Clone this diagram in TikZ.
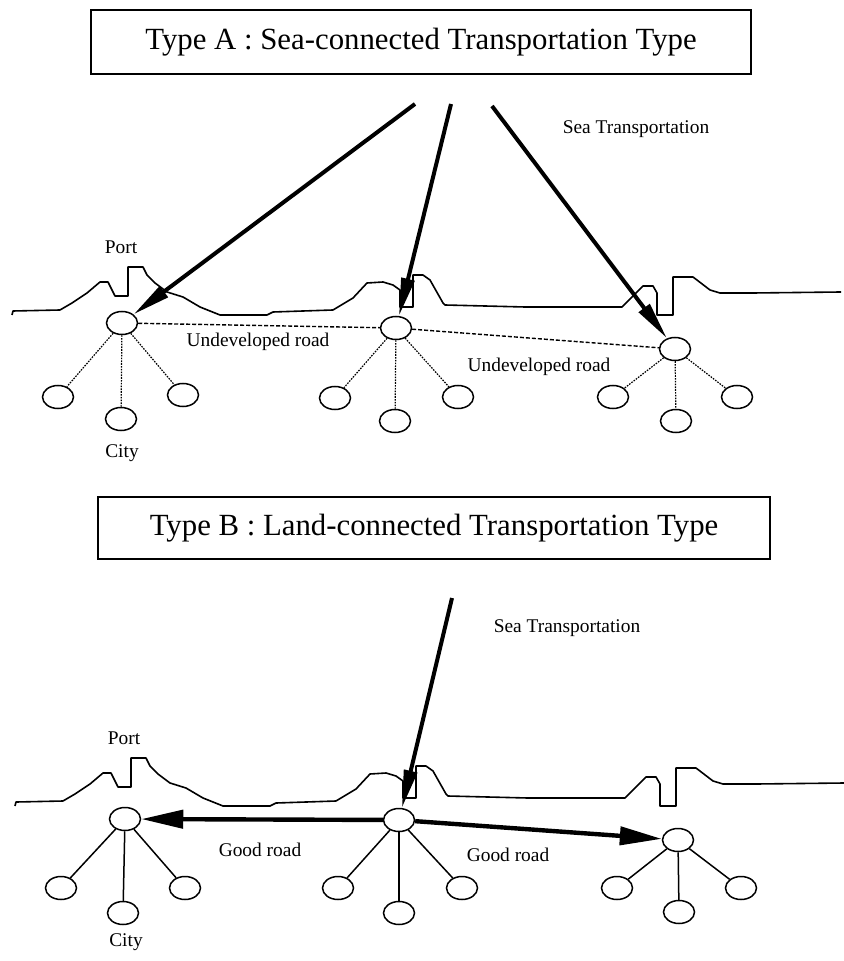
\documentclass[tikz,border=0pt]{standalone}
\usepackage{fontspec}
\setmainfont{Liberation Serif}
\usetikzlibrary{arrows.meta,shapes.geometric}
\def\titlefont{\fontsize{15.4}{18}\selectfont}
\def\lblfont{\fontsize{9.7}{11}\selectfont}
\def\coastline[#1]{\draw[coast,#1] (12,315) -- (13,311) -- (60,310) -- (72,303) -- (87,293) -- (100,282) -- (108,282) -- (113,292) -- (115,296) -- (128,296) -- (128,267) -- (143,267) -- (147,275) -- (155,283) -- (167,292) -- (183,297) -- (200,307) -- (220,315) -- (267,315) -- (273,312) -- (333,310) -- (353,298) -- (367,283) -- (383,282) -- (393,285) -- (400,290) -- (400,307) -- (413,307) -- (413,275) -- (423,275) -- (430,280) -- (443,303) -- (445,305) -- (525,307) -- (622,307) -- (643,286) -- (653,286) -- (657,293) -- (657,315) -- (673,315) -- (673,277) -- (693,277) -- (710,290) -- (720,293) -- (753,293) -- (841,292);}

\tikzset{
	hub/.style={draw, ellipse, minimum width=15.5pt, minimum height=11.5pt, inner sep=0pt, line width=0.75pt},
	titlebox/.style={draw, line width=0.7pt, font=\titlefont, inner sep=0pt},
	lbl/.style={font=\lblfont, inner sep=0pt},
	coast/.style={line width=0.8pt, line join=round},
	seaarrow/.style={line width=2pt, -{Triangle[length=19pt,width=6.5pt]}},
	goodroad/.style={line width=2.2pt, -{Triangle[length=21pt,width=9pt]}},
	badroad/.style={line width=0.7pt, dash pattern=on 2pt off 1pt},
	dotspoke/.style={line width=0.6pt, dash pattern=on 0.8pt off 0.6pt},
	spoke/.style={line width=0.75pt}
}

\begin{document}
\begin{tikzpicture}[x=0.5pt, y=-0.5pt]
			%%%%% START %%%%%
			\useasboundingbox (0,0) rectangle (843,961);
			
			%%%%% TYPE A %%%%%
			\node[titlebox, minimum width=330pt, minimum height=32pt] (titleA) at (421,42) {Type A : Sea-connected Transportation Type};
			
			\coastline[];
			
			\node[hub] (A1) at (122,323) {};
			\node[hub] (A2) at (396,328) {};
			\node[hub] (A3) at (675,349) {};
			
			\node[hub] (A1a) at (58,397) {};
			\node[hub] (A1b) at (121,419) {};
			\node[hub] (A1c) at (183,395) {};
			\node[hub] (A2a) at (335,398) {};
			\node[hub] (A2b) at (395,421) {};
			\node[hub] (A2c) at (458,397) {};
			\node[hub] (A3a) at (613,397) {};
			\node[hub] (A3b) at (676,421) {};
			\node[hub] (A3c) at (737,397) {};
			
			\draw[dotspoke] (A1) -- (A1a);
			\draw[dotspoke] (A1) -- (A1b);
			\draw[dotspoke] (A1) -- (A1c);
			\draw[dotspoke] (A2) -- (A2a);
			\draw[dotspoke] (A2) -- (A2b);
			\draw[dotspoke] (A2) -- (A2c);
			\draw[dotspoke] (A3) -- (A3a);
			\draw[dotspoke] (A3) -- (A3b);
			\draw[dotspoke] (A3) -- (A3c);
			
			\draw[badroad] (A1) -- (A2);
			\draw[badroad] (A2) -- (A3);
			
			\coordinate (seaA1) at (415,104);
			\coordinate (seaA2) at (451,104);
			\coordinate (seaA3) at (492,106);
			\draw[seaarrow] (seaA1) -- (A1);
			\draw[seaarrow] (seaA2) -- (A2);
			\draw[seaarrow] (seaA3) -- (A3);
			
			\node[lbl] (seaLblA) at (636,129) {Sea Transportation};
			\node[lbl] (portA) at (121,247) {Port};
			\node[lbl] (cityA) at (122,453) {City};
			\node[lbl] (roadA1) at (258,342) {Undeveloped road};
			\node[lbl] (roadA2) at (539,367) {Undeveloped road};
			
			%%%%% TYPE B %%%%%
			\node[titlebox, minimum width=336pt, minimum height=31pt] (titleB) at (434,528) {Type B : Land-connected Transportation Type};
			
			\coastline[shift={(3,491)}];
			
			\node[hub] (B1) at (125,819) {};
			\node[hub] (B2) at (399,820) {};
			\node[hub] (B3) at (678,840) {};
			
			\node[hub] (B1a) at (61,888) {};
			\node[hub] (B1b) at (123,913) {};
			\node[hub] (B1c) at (185,888) {};
			\node[hub] (B2a) at (338,888) {};
			\node[hub] (B2b) at (399,913) {};
			\node[hub] (B2c) at (462,888) {};
			\node[hub] (B3a) at (617,888) {};
			\node[hub] (B3b) at (679,912) {};
			\node[hub] (B3c) at (741,888) {};
			
			\draw[spoke] (B1) -- (B1a);
			\draw[spoke] (B1) -- (B1b);
			\draw[spoke] (B1) -- (B1c);
			\draw[spoke] (B2) -- (B2a);
			\draw[spoke] (B2) -- (B2b);
			\draw[spoke] (B2) -- (B2c);
			\draw[spoke] (B3) -- (B3a);
			\draw[spoke] (B3) -- (B3b);
			\draw[spoke] (B3) -- (B3c);
			
			\draw[goodroad] (B2) -- (B1);
			\draw[goodroad] (B2) -- (B3);
			
			\coordinate (seaB) at (452,598);
			\draw[seaarrow] (seaB) -- (B2);
			
			\node[lbl] (seaLblB) at (567,628) {Sea Transportation};
			\node[lbl] (portB) at (124,738) {Port};
			\node[lbl] (cityB) at (126,942) {City};
			\node[lbl] (roadB1) at (260,850) {Good road};
			\node[lbl] (roadB2) at (508,855) {Good road};
			
			%%%%% END %%%%%
\end{tikzpicture}
\end{document}
